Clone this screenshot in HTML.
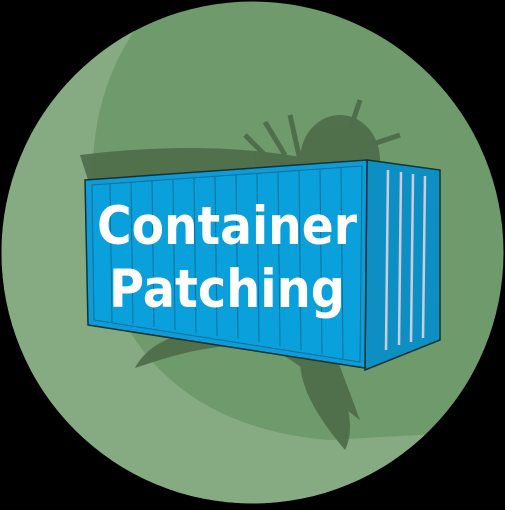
<!DOCTYPE html>
<html><head><style>html,body{margin:0;padding:0;background:#000}</style></head><body>
<svg width="505" height="505" viewBox="0 0 505 505" xmlns="http://www.w3.org/2000/svg">
<rect width="505" height="505" fill="#000"/>
<clipPath id="c"><circle cx="252.5" cy="252.5" r="251"/></clipPath>
<g clip-path="url(#c)">
<rect width="505" height="505" fill="#6f9a6b"/>
<path d="M0,0 L160,0 C100,60 80,150 100,250 C120,360 200,430 330,440 L505,430 L505,505 L0,505 Z" fill="#86aa82"/>
<g fill="#4f6e4b" opacity="0.95">
<ellipse cx="340" cy="160" rx="40" ry="45"/>
<path d="M80,155 C200,140 300,150 370,175 L380,330 C300,340 200,330 130,310 Z"/>
<path d="M135,368 C160,320 250,320 330,340 L360,420 C330,400 300,350 250,345 C200,345 160,360 135,368 Z"/>
<path d="M300,360 C340,360 360,420 345,450 C320,420 300,390 300,360 Z"/>
</g>
<g stroke="#4f6e4b" stroke-width="5" fill="none">
<path d="M245,135 L270,160 L300,165"/>
<path d="M265,122 L285,155"/>
<path d="M290,115 L300,160"/>
<path d="M360,100 L350,130"/>
<path d="M400,135 L370,145"/>
</g>
</g>
<polygon points="367,160 440,170 440,340 365,370" fill="#0d8fc4" stroke="#133" stroke-width="1.5"/>
<polygon points="85,180 367,160 365,368 88,325" fill="#0e9bd8" stroke="#133" stroke-width="1.5"/>
<polygon points="92,185 362,166 360,362 94,320" fill="#0aa0dc" stroke="#0a6f9a" stroke-width="1"/>
<g stroke="#0a6f9a" stroke-width="1">
<line x1="110" y1="184" x2="112" y2="322"/><line x1="131" y1="182" x2="133" y2="324"/>
<line x1="152" y1="181" x2="154" y2="327"/><line x1="173" y1="180" x2="175" y2="330"/>
<line x1="194" y1="178" x2="196" y2="333"/><line x1="215" y1="177" x2="217" y2="336"/>
<line x1="236" y1="175" x2="238" y2="339"/><line x1="257" y1="174" x2="259" y2="342"/>
<line x1="278" y1="172" x2="280" y2="346"/><line x1="299" y1="171" x2="301" y2="350"/>
<line x1="320" y1="169" x2="322" y2="354"/><line x1="341" y1="168" x2="343" y2="358"/>
</g>
<g stroke="#ccd" stroke-width="2.5" fill="none">
<line x1="388" y1="170" x2="386" y2="350"/><line x1="401" y1="172" x2="399" y2="345"/>
<line x1="413" y1="174" x2="411" y2="342"/><line x1="425" y1="176" x2="423" y2="338"/>
</g>
<text x="227" y="244" text-anchor="middle" font-family="DejaVu Sans, sans-serif" font-weight="bold" font-size="53" fill="#fff" textLength="260" lengthAdjust="spacingAndGlyphs">Container</text>
<text x="227" y="307" text-anchor="middle" font-family="DejaVu Sans, sans-serif" font-weight="bold" font-size="53" fill="#fff" textLength="236" lengthAdjust="spacingAndGlyphs">Patching</text>
</svg>
</body></html>
